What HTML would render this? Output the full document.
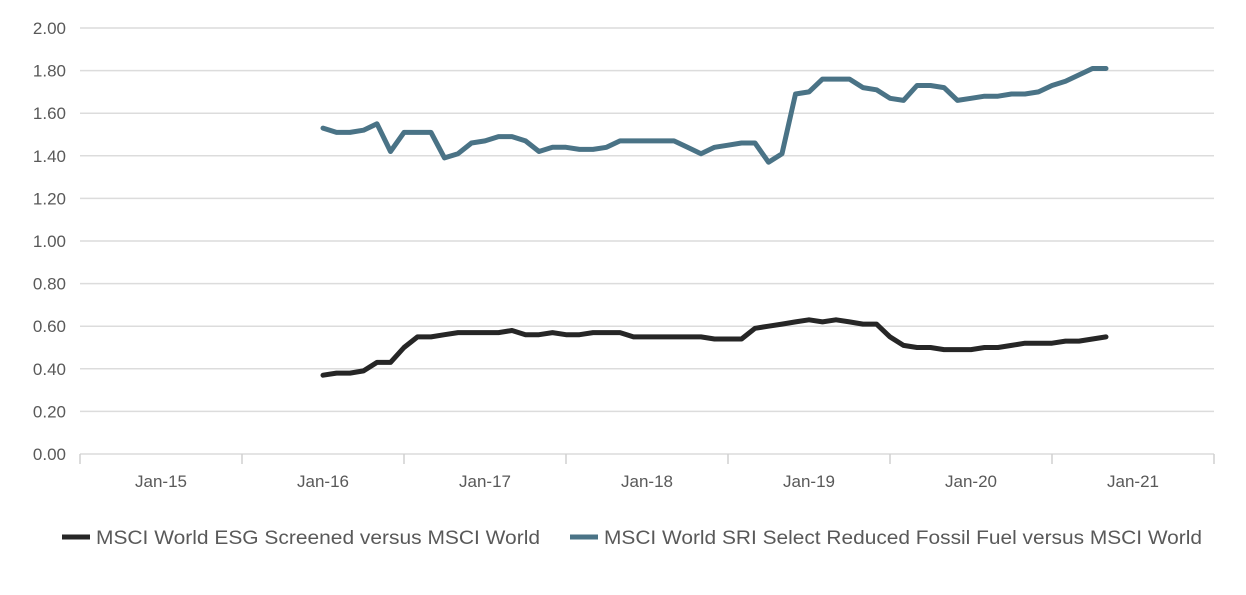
<!DOCTYPE html>
<html><head><meta charset="utf-8"><style>
body{margin:0;background:#fff;font-family:"Liberation Sans",sans-serif;}
svg text{font-family:"Liberation Sans",sans-serif;fill:#595959;}
</style></head><body>
<svg id="chart" width="1246" height="590" xmlns="http://www.w3.org/2000/svg"></svg>
<script>
const yTicks=[0,0.2,0.4,0.6,0.8,1.0,1.2,1.4,1.6,1.8,2.0];
const xLabels=["Jan-15","Jan-16","Jan-17","Jan-18","Jan-19","Jan-20","Jan-21"];
const seriesNames=["MSCI World ESG Screened versus MSCI World","MSCI World SRI Select Reduced Fossil Fuel versus MSCI World"];
const startMonth=12; // months after Jan-15
const esgValues=[0.37,0.38,0.38,0.39,0.43,0.43,0.50,0.55,0.55,0.56,0.57,0.57,
0.57,0.57,0.58,0.56,0.56,0.57,0.56,0.56,0.57,0.57,0.57,0.55,
0.55,0.55,0.55,0.55,0.55,0.54,0.54,0.54,0.59,0.60,0.61,0.62,
0.63,0.62,0.63,0.62,0.61,0.61,0.55,0.51,0.50,0.50,0.49,0.49,
0.49,0.50,0.50,0.51,0.52,0.52,0.52,0.53,0.53,0.54,0.55];
const sriValues=[1.53,1.51,1.51,1.52,1.55,1.42,1.51,1.51,1.51,1.39,1.41,1.46,
1.47,1.49,1.49,1.47,1.42,1.44,1.44,1.43,1.43,1.44,1.47,1.47,
1.47,1.47,1.47,1.44,1.41,1.44,1.45,1.46,1.46,1.37,1.41,1.69,
1.70,1.76,1.76,1.76,1.72,1.71,1.67,1.66,1.73,1.73,1.72,1.66,
1.67,1.68,1.68,1.69,1.69,1.70,1.73,1.75,1.78,1.81,1.81];
const svg=document.getElementById('chart');
const NS='http://www.w3.org/2000/svg';
const x0=161, yearW=162, yBase=454, yTop=28;
function xPos(m){return x0+m*yearW/12;}
function yPos(v){return yBase-(v/2)*(yBase-yTop);}
function mk(tag,attrs,parent){const e=document.createElementNS(NS,tag);for(const k in attrs)e.setAttribute(k,attrs[k]);(parent||svg).appendChild(e);return e;}
yTicks.forEach(v=>{
  const l=mk('line',{x1:80,x2:1214,y1:yPos(v),y2:yPos(v),stroke:'#dcdcdc','stroke-width':1.5});
  
  
  const t=mk('text',{x:66,y:yPos(v)+6,'text-anchor':'end','font-size':17});
  t.textContent=v.toFixed(2);
  
  
});
for(let i=0;i<=xLabels.length;i++){
  const x=80+i*yearW;
  if(x>1215)break;
  const tk=mk('line',{x1:x,x2:x,y1:yBase,y2:yBase+10,stroke:'#d0d0d0','stroke-width':1.5});
  
  
}
xLabels.forEach((lb,i)=>{
  const t=mk('text',{x:xPos(i*12),y:487,'text-anchor':'middle','font-size':17});
  t.textContent=lb;
  
  
});
function drawLine(vals,color,name){
  const pts=vals.map((v,i)=>xPos(startMonth+i).toFixed(1)+','+yPos(v).toFixed(1)).join(' ');
  const p=mk('polyline',{points:pts,fill:'none',stroke:color,'stroke-width':5,'stroke-linejoin':'round','stroke-linecap':'round'});
  
  
}
drawLine(sriValues,'#4a7386','sri-series-line');
drawLine(esgValues,'#262626','esg-series-line');
const legend=[[62,'#262626',seriesNames[0],444],[570,'#4a7386',seriesNames[1],598]];
legend.forEach(([x,c,n,w],i)=>{
  const g=mk('g',{});
  
  
  mk('line',{x1:x,x2:x+28,y1:537,y2:537,stroke:c,'stroke-width':5},g);
  const t=mk('text',{x:x+34,y:544,'font-size':19.5,textLength:w,lengthAdjust:'spacingAndGlyphs'},g);
  t.textContent=n;
});
</script>
</body></html>
